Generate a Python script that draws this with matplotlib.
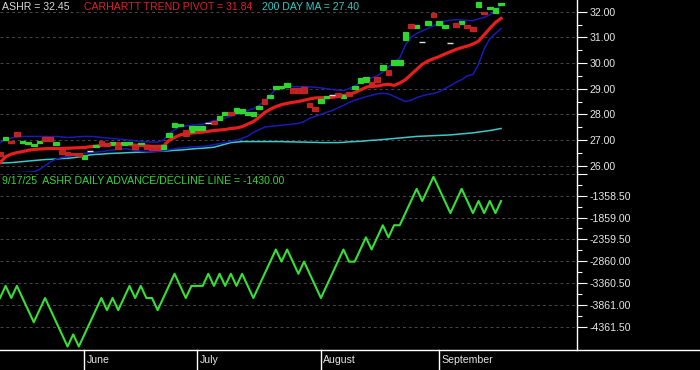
import numpy as np
import pandas as pd
import matplotlib
matplotlib.use("Agg")
import matplotlib.pyplot as plt
from matplotlib.lines import Line2D
from matplotlib.ticker import FixedLocator, FuncFormatter
import matplotlib.transforms as mtransforms

plt.rcParams['font.family'] = ['Liberation Sans', 'DejaVu Sans']

# ---------------- data ----------------
holidays = ['2025-05-26', '2025-06-19', '2025-07-04', '2025-09-01']
dates = pd.bdate_range('2025-05-09', '2025-09-17', freq='C', holidays=holidays)

opens = [26.55, 27.02, 26.98, 27.33, 26.90, 26.86, 26.75, 26.90, 27.10, 27.10,
         26.79, 26.63, 26.55, 26.51, 26.51, 26.28, 26.59, 26.71, 26.98, 26.90,
         26.82, 26.79, 26.82, 26.86, 26.79, 26.86, 26.75, 26.71, 26.79, 26.67,
         27.10, 27.49, 27.53, 27.41, 27.33, 27.41, 27.41, 27.68, 27.76, 27.80,
         27.99, 28.11, 28.07, 28.07, 27.99, 27.95, 28.19, 28.61, 28.65, 29.00,
         29.04, 29.08, 29.04, 29.04, 29.08, 28.46, 28.30, 28.46, 28.65, 28.77,
         28.85, 28.65, 28.89, 28.97, 29.24, 29.28, 29.28, 29.47, 29.73, 29.71,
         29.94, 29.94, 30.91, 31.53, 31.38, 30.83, 31.49, 31.96, 31.49, 31.38,
         30.79, 31.57, 31.53, 31.49, 31.42, 32.19, 32.00, 32.12, 31.96, 32.27]
closes = [26.36, 27.10, 26.90, 27.17, 26.98, 26.94, 26.86, 26.98, 26.98, 26.98,
          26.94, 26.47, 26.40, 26.40, 26.36, 26.40, 26.59, 26.79, 26.79, 26.75,
          26.94, 26.67, 26.94, 26.92, 26.67, 26.90, 26.67, 26.63, 26.63, 26.82,
          27.29, 27.68, 27.64, 27.17, 27.53, 27.56, 27.53, 27.68, 27.64, 27.92,
          28.11, 27.99, 28.23, 28.19, 28.11, 28.11, 28.34, 28.42, 28.77, 29.12,
          29.12, 29.24, 28.85, 28.85, 28.85, 28.30, 28.15, 28.58, 28.73, 28.77,
          28.69, 28.77, 28.73, 29.12, 29.43, 29.47, 29.08, 29.28, 29.94, 29.55,
          30.13, 30.13, 31.22, 31.38, 31.49, 30.83, 31.65, 31.81, 31.65, 31.49,
          30.79, 31.42, 31.65, 31.38, 31.26, 32.39, 31.92, 32.19, 32.16, 32.35]

trend_pivot = [26.12, 26.35, 26.45, 26.51, 26.55, 26.60, 26.63, 26.65, 26.66, 26.67,
               26.67, 26.67, 26.68, 26.69, 26.70, 26.71, 26.74, 26.76, 26.79, 26.82,
               26.85, 26.86, 26.84, 26.82, 26.80, 26.79, 26.77, 26.75, 26.75, 26.76,
               26.98, 27.10, 27.20, 27.24, 27.27, 27.29, 27.31, 27.34, 27.37, 27.39,
               27.41, 27.45, 27.47, 27.52, 27.62, 27.72, 27.88, 28.07, 28.20, 28.30,
               28.38, 28.43, 28.47, 28.50, 28.55, 28.60, 28.64, 28.65, 28.65, 28.66,
               28.70, 28.74, 28.77, 28.85, 28.95, 29.05, 29.12, 29.10, 29.15, 29.17,
               29.13, 29.22, 29.35, 29.55, 29.75, 29.95, 30.08, 30.17, 30.25, 30.35,
               30.44, 30.53, 30.60, 30.66, 30.74, 30.85, 31.10, 31.35, 31.58, 31.74]
upper_band = [26.90, 27.00, 27.08, 27.12, 27.14, 27.14, 27.14, 27.14, 27.14, 27.13,
              27.14, 27.12, 27.10, 27.11, 27.13, 27.14, 27.14, 27.13, 27.10, 27.08,
              27.06, 27.04, 27.02, 27.00, 26.97, 26.94, 26.93, 26.92, 26.92, 27.00,
              27.25, 27.40, 27.52, 27.55, 27.57, 27.60, 27.62, 27.68, 27.75, 27.80,
              27.86, 27.93, 28.00, 28.07, 28.15, 28.22, 28.35, 28.52, 28.75, 28.98,
              29.05, 29.08, 29.08, 29.08, 29.08, 29.07, 29.06, 29.03, 29.00, 28.97,
              28.94, 28.93, 29.00, 29.10, 29.25, 29.35, 29.42, 29.50, 29.65, 29.85,
              30.00, 30.20, 30.70, 31.00, 31.15, 31.25, 31.35, 31.45, 31.55, 31.63,
              31.67, 31.69, 31.68, 31.66, 31.65, 31.72, 31.78, 31.88, 32.00, 32.27]
lower_band = [25.72, 25.72, 25.73, 25.73, 25.74, 25.75, 25.76, 25.85, 26.00, 26.15,
              26.26, 26.32, 26.36, 26.40, 26.44, 26.48, 26.51, 26.53, 26.55, 26.58,
              26.61, 26.64, 26.66, 26.64, 26.60, 26.57, 26.55, 26.55, 26.56, 26.58,
              26.62, 26.66, 26.69, 26.71, 26.73, 26.74, 26.75, 26.78, 26.82, 26.86,
              26.90, 26.95, 27.00, 27.06, 27.15, 27.30, 27.40, 27.50, 27.53, 27.55,
              27.58, 27.60, 27.62, 27.65, 27.72, 27.85, 27.92, 28.00, 28.08, 28.15,
              28.25, 28.35, 28.46, 28.55, 28.62, 28.69, 28.74, 28.80, 28.82, 28.80,
              28.70, 28.60, 28.50, 28.55, 28.65, 28.72, 28.78, 28.81, 28.88, 29.00,
              29.12, 29.25, 29.35, 29.50, 29.55, 29.95, 30.55, 30.95, 31.15, 31.34]
ma200 = [26.10, 26.11, 26.12, 26.14, 26.16, 26.18, 26.20, 26.22, 26.24, 26.25,
         26.26, 26.28, 26.29, 26.31, 26.34, 26.37, 26.42, 26.44, 26.45, 26.47,
         26.48, 26.49, 26.50, 26.51, 26.52, 26.53, 26.54, 26.55, 26.56, 26.57,
         26.58, 26.60, 26.61, 26.63, 26.65, 26.67, 26.68, 26.70, 26.72, 26.78,
         26.84, 26.90, 26.92, 26.94, 26.94, 26.94, 26.94, 26.94, 26.94, 26.94,
         26.94, 26.93, 26.93, 26.92, 26.92, 26.91, 26.91, 26.90, 26.90, 26.90,
         26.90, 26.91, 26.93, 26.94, 26.95, 26.97, 26.99, 27.00, 27.02, 27.04,
         27.06, 27.08, 27.10, 27.12, 27.14, 27.15, 27.16, 27.17, 27.18, 27.19,
         27.20, 27.22, 27.24, 27.26, 27.28, 27.31, 27.34, 27.37, 27.41, 27.45]
ad_line = [-3704, -3426, -3704, -3426, -3704, -3982, -4260, -3982, -3704, -3982,
           -4260, -4538, -4816, -4538, -4816, -4538, -4260, -3982, -3704, -3982,
           -3704, -3982, -3704, -3426, -3704, -3426, -3704, -3704, -3982, -3704,
           -3426, -3148, -3426, -3704, -3426, -3426, -3426, -3148, -3426, -3148,
           -3426, -3148, -3426, -3148, -3426, -3704, -3426, -3148, -2870, -2592,
           -2870, -2592, -2870, -3148, -2870, -3148, -3426, -3704, -3426, -3148,
           -2870, -2592, -2870, -2870, -2592, -2314, -2592, -2314, -2036, -2314,
           -2036, -2036, -1758, -1480, -1202, -1480, -1202, -924, -1202, -1480,
           -1758, -1480, -1202, -1480, -1758, -1480, -1758, -1480, -1758, -1480]

price_ticks = [26.0, 27.0, 28.0, 29.0, 30.0, 31.0, 32.0]
ad_ticks = [-858.0, -1358.5, -1859.0, -2359.5, -2860.0, -3360.5, -3861.0, -4361.5]
month_names = ['June', 'July', 'August', 'September']

title_price = 'ASHR = 32.45'
title_pivot = 'CARHARTT TREND PIVOT = 31.84'
title_ma = '200 DAY MA = 27.40'
title_ad = '9/17/25  ASHR DAILY ADVANCE/DECLINE LINE = -1430.00'

# ---------------- figure ----------------
W, H = 700, 370
fig = plt.figure(figsize=(W / 100, H / 100), dpi=100, facecolor='black')

plot_right = 577 / W
split_y = 172
ax_p = fig.add_axes([0, 1 - split_y / H, plot_right, split_y / H], facecolor='black')
ax_a = fig.add_axes([0, 20 / H, plot_right, (350 - split_y) / H], facecolor='black', sharex=ax_p)

x = np.arange(len(dates))
o = np.array(opens)
c = np.array(closes)

GREEN = '#2fd62f'
RED = '#cc2626'

# lines
ax_p.plot(x, ma200, color='#3cc8c8', lw=1.1, zorder=2)
ax_p.plot(x, upper_band, color='#1a1ab8', lw=1.1, zorder=2)
ax_p.plot(x, lower_band, color='#1a1ab8', lw=1.1, zorder=2)
ax_p.plot(x, trend_pivot, color='#e81e1e', lw=2.3, zorder=3)

# candles
up = c > o
dn = c < o
eq = c == o
ax_p.bar(x[up], (c - o)[up], bottom=o[up], width=1.0, color=GREEN,
         edgecolor=GREEN, linewidth=0.9, zorder=4)
ax_p.bar(x[dn], (o - c)[dn], bottom=c[dn], width=1.0, color=RED,
         edgecolor=RED, linewidth=0.9, zorder=4, alpha=0.92)
ax_p.hlines(c[eq], x[eq] - 0.55, x[eq] + 0.55, color='#e0e0e0', lw=1.0, zorder=4)

# A/D line
ax_a.plot(x, ad_line, color='#36e036', lw=1.5, zorder=3)

# limits
xmin, xmax = 0, 577 / 5.63
ax_p.set_xlim(xmin, xmax)
px_per_unit = 154.0 / 6.0
ax_p.set_ylim(32 - (split_y - 11.7) / px_per_unit, 32 + 11.7 / px_per_unit)
ad_per_px = 3003.0 / 131.0
ax_a.set_ylim(-1358.5 - (350 - 195.7) * ad_per_px, -1358.5 + (195.7 - split_y) * ad_per_px)

# styling
for ax in (ax_p, ax_a):
    for s in ('left', 'top', 'bottom'):
        ax.spines[s].set_visible(False)
    ax.spines['right'].set_color('white')
    ax.spines['right'].set_linewidth(1.0)
    ax.yaxis.tick_right()
    ax.tick_params(axis='x', which='both', bottom=False, labelbottom=False, top=False)
    ax.tick_params(axis='y', which='major', length=7.2, width=0.8, colors='white',
                   labelcolor='#e6e6e6', labelsize=7.6, pad=1.5)
    ax.tick_params(axis='y', which='minor', length=3.6, width=0.8, colors='white')
    ax.yaxis.grid(True, which='major', color='#484848', linestyle=(0, (3, 3)), linewidth=0.7)
    ax.set_axisbelow(True)

ax_p.yaxis.set_major_locator(FixedLocator(price_ticks))
ax_p.yaxis.set_minor_locator(FixedLocator([t + 0.5 for t in price_ticks]))
ax_p.yaxis.set_major_formatter(FuncFormatter(lambda v, p: f'{v:.2f}'))

ax_a.yaxis.set_major_locator(FixedLocator(ad_ticks))
ax_a.yaxis.set_minor_locator(FixedLocator([(a + b) / 2 for a, b in zip(ad_ticks[:-1], ad_ticks[1:])]))
ax_a.yaxis.set_major_formatter(FuncFormatter(lambda v, p: '' if v == ad_ticks[0] else f'{v:.2f}'))

# bottom border line
fig.add_artist(Line2D([0, 1], [20 / H, 20 / H], color='white', lw=1.0, transform=fig.transFigure))

# month separators and labels
trans = mtransforms.blended_transform_factory(ax_a.transData, fig.transFigure)
months = pd.Series(dates.month)
starts = [i for i in range(1, len(dates)) if months[i] != months[i - 1]]
for i, name in zip(starts, month_names):
    ax_a.add_line(Line2D([x[i], x[i]], [0, 20 / H], color='white', lw=1.0,
                         transform=trans, clip_on=False))
    ax_a.text(x[i] + 0.45, 10 / H, name, transform=trans, color='#e6e6e6',
              fontsize=7.6, va='center', ha='left', clip_on=False)

# headers
fig.text(2 / W, 1 - 7.5 / H, title_price, color='#d8d8d8', fontsize=7.6, va='center', ha='left')
fig.text(84 / W, 1 - 7.5 / H, title_pivot, color='#e02222', fontsize=7.6, va='center', ha='left')
fig.text(262 / W, 1 - 7.5 / H, title_ma, color='#33c8c8', fontsize=7.6, va='center', ha='left')
fig.text(2 / W, 1 - 181.5 / H, title_ad, color='#36d636', fontsize=7.6, va='center', ha='left')

fig.savefig('out.png', dpi=100, facecolor='black')
